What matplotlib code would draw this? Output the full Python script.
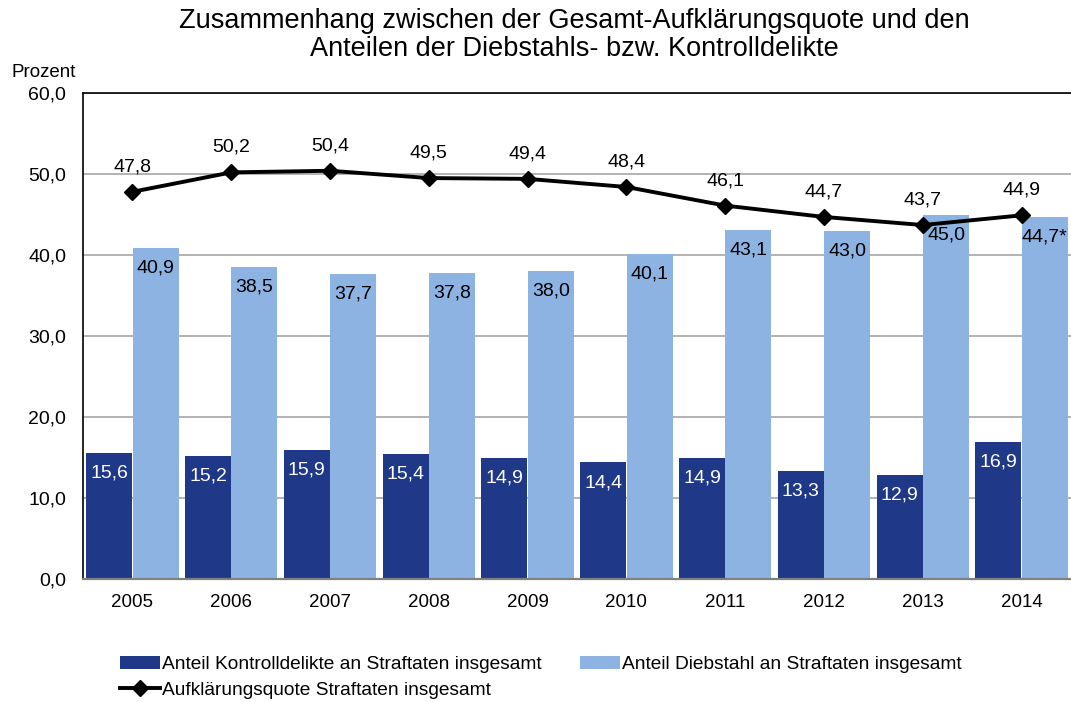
import matplotlib
matplotlib.use("Agg")
import matplotlib.pyplot as plt
import numpy as np

years = ["2005", "2006", "2007", "2008", "2009", "2010", "2011", "2012", "2013", "2014"]
kontroll = [15.6, 15.2, 15.9, 15.4, 14.9, 14.4, 14.9, 13.3, 12.9, 16.9]
diebstahl = [40.9, 38.5, 37.7, 37.8, 38.0, 40.1, 43.1, 43.0, 45.0, 44.7]
aufkl = [47.8, 50.2, 50.4, 49.5, 49.4, 48.4, 46.1, 44.7, 43.7, 44.9]
diebstahl_labels = ["40,9", "38,5", "37,7", "37,8", "38,0", "40,1", "43,1", "43,0", "45,0", "44,7*"]
yticks = [0, 10, 20, 30, 40, 50, 60]

plt.rcParams['font.family'] = ['Liberation Sans', 'DejaVu Sans']

fig = plt.figure(figsize=(10.71, 7.02), dpi=100)
ax = fig.add_axes([0.0775, 0.1752, 0.9225, 0.6923])

x = np.arange(len(years))
w = 0.465
off = 0.235
dark = '#1F3888'
light = '#8DB3E3'

b1 = ax.bar(x - off, kontroll, w, color=dark, zorder=2,
            label="Anteil Kontrolldelikte an Straftaten insgesamt")
b2 = ax.bar(x + off, diebstahl, w, color=light, zorder=2,
            label="Anteil Diebstahl an Straftaten insgesamt")
ln, = ax.plot(x, aufkl, color='black', lw=2.8, marker='D', markersize=8.5,
              zorder=4, label="Aufklärungsquote Straftaten insgesamt")

def fmt(v):
    return f"{v:.1f}".replace('.', ',')

for xi, v in zip(x - off, kontroll):
    ax.annotate(fmt(v), (xi, v), xytext=(0, -14.5), textcoords='offset points',
                ha='center', va='center', color='white', fontsize=14, zorder=5)
for xi, v, lab in zip(x + off, diebstahl, diebstahl_labels):
    ax.annotate(lab, (xi, v), xytext=(0, -14.5), textcoords='offset points',
                ha='center', va='center', color='black', fontsize=14, zorder=5)
for xi, v in zip(x, aufkl):
    ax.annotate(fmt(v), (xi, v), xytext=(0, 18), textcoords='offset points',
                ha='center', va='center', color='black', fontsize=14, zorder=5)

ax.set_xlim(-0.5, 9.5)
ax.set_ylim(0, 60)
ax.set_yticks(yticks)
ax.set_yticklabels([fmt(t) for t in yticks], fontsize=14)
ax.set_xticks(x)
ax.set_xticklabels(years, fontsize=13.5)
ax.tick_params(axis='y', length=0, pad=12)
ax.tick_params(axis='x', length=0, pad=11)
ax.grid(axis='y', color='#A6A6A6', lw=1.2, zorder=0)
ax.set_axisbelow(True)
ax.spines['right'].set_visible(False)
ax.spines['top'].set_color('black')
ax.spines['top'].set_linewidth(1.2)
ax.spines['left'].set_color('black')
ax.spines['left'].set_linewidth(1.2)
ax.spines['bottom'].set_color('#808080')
ax.spines['bottom'].set_linewidth(1.6)

fig.text(0.536, 0.95, "Zusammenhang zwischen der Gesamt-Aufklärungsquote und den\nAnteilen der Diebstahls- bzw. Kontrolldelikte",
         ha='center', va='center', fontsize=19.5, linespacing=1.1)
fig.text(0.011, 0.897, "Prozent", ha='left', va='center', fontsize=13.5)

fig.legend(handles=[b1, ln, b2], loc='upper left', bbox_to_anchor=(0.112, 0.066),
           ncol=2, frameon=False, fontsize=13.8, handlelength=2.1,
           handletextpad=0.1, columnspacing=2.0, labelspacing=0.45,
           borderaxespad=0, borderpad=0)

fig.savefig("out.png", dpi=100)
